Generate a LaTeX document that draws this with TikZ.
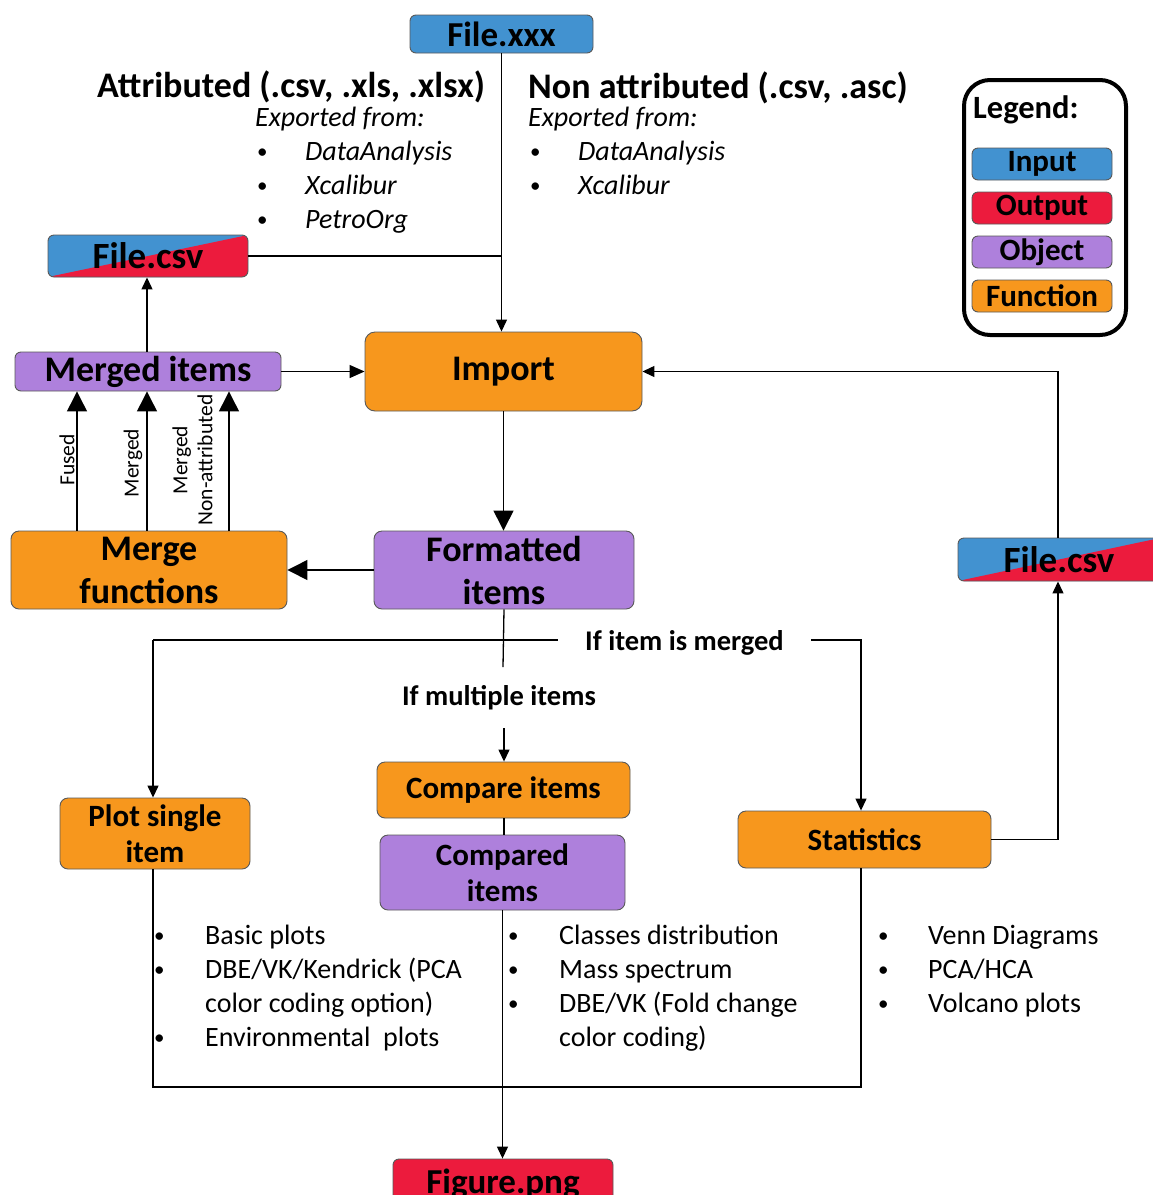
\documentclass[tikz,border=0pt]{standalone}
\usepackage{fontspec}
\setmainfont{Carlito}
\usetikzlibrary{arrows.meta,calc}
\definecolor{cblue}{RGB}{66,146,208}
\definecolor{cred}{RGB}{236,27,61}
\definecolor{cpurple}{RGB}{174,128,220}
\definecolor{corange}{RGB}{247,151,29}
\newcommand\fsz[2]{\fontsize{#1}{#2}\selectfont}
\newcommand\bul{\hspace*{2pt}\raisebox{1.5pt}{\fontsize{21}{34}\selectfont\upshape •}}
\tikzset{
  box/.style={draw=black!65, line width=0.9pt, rounded corners=6pt, inner sep=0pt, align=center, font=\bfseries\fsz{31}{36}},
  inbox/.style={box, fill=cblue},
  outbox/.style={box, fill=cred},
  objbox/.style={box, fill=cpurple},
  funbox/.style={box, fill=corange},
  splitbox/.style={box, fill=cblue, path picture={\fill[cred] (path picture bounding box.south west) -- (path picture bounding box.north east) -- (path picture bounding box.south east) -- cycle;}},
  conn/.style={line width=1.3pt, black},
  sarr/.style={conn, -{Triangle[length=12pt,width=11pt]}},
  marr/.style={conn, -{Triangle[length=15pt,width=13pt]}},
  barr/.style={conn, -{Triangle[length=20pt,width=20pt]}},
  lbl/.style={inner sep=0pt, font=\bfseries\fsz{28.5}{32}},
  rlbl/.style={inner sep=0pt, rotate=90, align=center, font=\fsz{21.5}{25}},
  title/.style={inner sep=0pt, anchor=base west, font=\bfseries\fsz{36}{42}},
  blist/.style={inner sep=0pt, anchor=base west, font=\fsz{28}{34}},
  legitem/.style={minimum width=140pt, minimum height=32pt, font=\bfseries\fsz{31}{34}},
}
\begin{document}
\begin{tikzpicture}[x=1pt,y=-1pt]
\useasboundingbox (0,0) rectangle (1153,1195);

% top input
\node[inbox, minimum width=183pt, minimum height=38pt, font=\bfseries\fsz{35}{40}] (filexxx) at (501.5,34) {File.xxx};

\node[title] (attr) at (97,97) {Attributed (.csv, .xls, .xlsx)};
\node[title] (nonattr) at (528,98) {Non attributed (.csv, .asc)};

\node[blist] (listA) at (255,126) {\itshape\begin{tabular}[t]{@{}p{50pt}@{}l@{}}
\multicolumn{2}{@{}l@{}}{Exported from:}\\
\bul & DataAnalysis\\
\bul & Xcalibur\\
\bul & PetroOrg
\end{tabular}};
\node[blist] (listB) at (528,126) {\itshape\begin{tabular}[t]{@{}p{50pt}@{}l@{}}
\multicolumn{2}{@{}l@{}}{Exported from:}\\
\bul & DataAnalysis\\
\bul & Xcalibur
\end{tabular}};

% left side
\node[splitbox, minimum width=200pt, minimum height=42pt, font=\bfseries\fsz{37}{40}] (filecsvL) at (148,256) {File.csv};
\node[objbox, minimum width=266pt, minimum height=39pt, font=\bfseries\fsz{36}{40}] (merged) at (148,371.5) {Merged items};
\node[funbox, rounded corners=10pt, minimum width=277pt, minimum height=79pt, font=\bfseries\fsz{36}{42}] (import) at (503.5,371.5) {Import};
\node[objbox, rounded corners=8pt, minimum width=260pt, minimum height=78pt, font=\bfseries\fsz{36}{43}] (formatted) at (504,570) {Formatted\\items};
\node[funbox, rounded corners=8pt, minimum width=276pt, minimum height=78pt, font=\bfseries\fsz{36}{43}] (mergef) at (149,570) {Merge\\functions};

% right side
\node[splitbox, minimum width=202pt, minimum height=43pt, font=\bfseries\fsz{37}{40}] (filecsvR) at (1059,559.5) {File.csv};

% lower boxes
\node[funbox, rounded corners=8pt, minimum width=253pt, minimum height=56pt] (compare) at (503.5,790) {Compare items};
\node[objbox, rounded corners=8pt, minimum width=245pt, minimum height=75pt] (compared) at (502.5,872.5) {Compared\\items};
\node[funbox, rounded corners=8pt, minimum width=190pt, minimum height=71pt] (plotsingle) at (155,833.5) {Plot single\\item};
\node[funbox, rounded corners=8pt, minimum width=253pt, minimum height=57pt] (stats) at (864.5,839.5) {Statistics};
\node[outbox, minimum width=220pt, minimum height=50pt, font=\bfseries\fsz{35}{40}] (figure) at (503,1184) {Figure.png};

% bullet lists
\node[blist] (listP) at (152,944) {\begin{tabular}[t]{@{}p{53pt}@{}l@{}}
\bul & Basic plots\\
\bul & DBE/VK/Kendrick (PCA\\
  & color coding option)\\
\bul & Environmental\ \ plots
\end{tabular}};
\node[blist] (listC) at (506,944) {\begin{tabular}[t]{@{}p{53pt}@{}l@{}}
\bul & Classes distribution\\
\bul & Mass spectrum\\
\bul & DBE/VK (Fold change\\
  & color coding)
\end{tabular}};
\node[blist] (listS) at (876,944) {\begin{tabular}[t]{@{}p{52pt}@{}l@{}}
\bul & Venn Diagrams\\
\bul & PCA/HCA\\
\bul & Volcano plots
\end{tabular}};

% legend
\node[draw=black, line width=4pt, rounded corners=26pt, minimum width=162pt, minimum height=255pt, inner sep=0pt] (legend) at (1045,207.5) {};
\node[inner sep=0pt, anchor=base west, font=\bfseries\fsz{32.5}{36}] (legtitle) at (973,118) {Legend:};
\node[inbox, legitem] (legin) at (1042,164) {Input};
\node[outbox, legitem] (legout) at (1042,208) {Output};
\node[objbox, legitem] (legobj) at (1042,252) {Object};
\node[funbox, legitem] (legfun) at (1042,296) {Function};

% helper coordinates
\coordinate (fx) at (77,0);
\coordinate (mx) at (147,0);
\coordinate (nx) at (229,0);
\coordinate (rx) at (1058,0);
\coordinate (lcorner) at (153,640);
\coordinate (mleft) at (558,640);
\coordinate (mright) at (811,640);
\coordinate (scorner) at (861,640);
\coordinate (fend) at (503,667);
\coordinate (mstart) at (504,728);
\coordinate (bl) at (153,1087);
\coordinate (br) at (861,1087);

% connectors
\draw[sarr] (filexxx.south) -- (filexxx.south |- import.north);
\draw[conn] (filecsvL.east) -- (filecsvL.east -| filexxx.south);
\draw[sarr] (merged.north -| mx) -- (filecsvL.south -| mx);
\draw[marr] (merged.east) -- (import.west);
\draw[barr] (import.south) -- (import.south |- formatted.north);
\draw[barr] (formatted.west) -- (mergef.east);
\draw[barr] (mergef.north -| fx) -- (merged.south -| fx);
\draw[barr] (mergef.north -| mx) -- (merged.south -| mx);
\draw[barr] (mergef.north -| nx) -- (merged.south -| nx);
\node[rlbl] (lfused) at (67,460) {Fused};
\node[rlbl] (lmerged) at (133,463) {Merged};
\node[rlbl] (lnonattr) at (192.5,460) {Merged\\Non-attributed};

\draw[conn] (formatted.south) -- (fend);
\draw[conn] (lcorner) -- (mleft);
\draw[sarr] (mright) -- (scorner) -- (stats.north -| scorner);
\draw[sarr] (lcorner) -- (plotsingle.north -| lcorner);
\node[lbl] (lmergedif) at (684.5,643) {If item is merged};
\node[lbl] (lmultiple) at (499,698) {If multiple items};
\draw[sarr] (mstart) -- (compare.north -| mstart);
\draw[conn] (compare.south -| mstart) -- (compared.north -| mstart);

\draw[conn] (plotsingle.south -| lcorner) -- (bl) -- (br) -- (stats.south -| br);
\draw[sarr] (compared.south) -- (compared.south |- figure.north);
\draw[sarr] (stats.east) -- (stats.east -| rx) -- (filecsvR.south -| rx);
\draw[sarr] (filecsvR.north -| rx) |- (import.east);
\end{tikzpicture}
\end{document}
